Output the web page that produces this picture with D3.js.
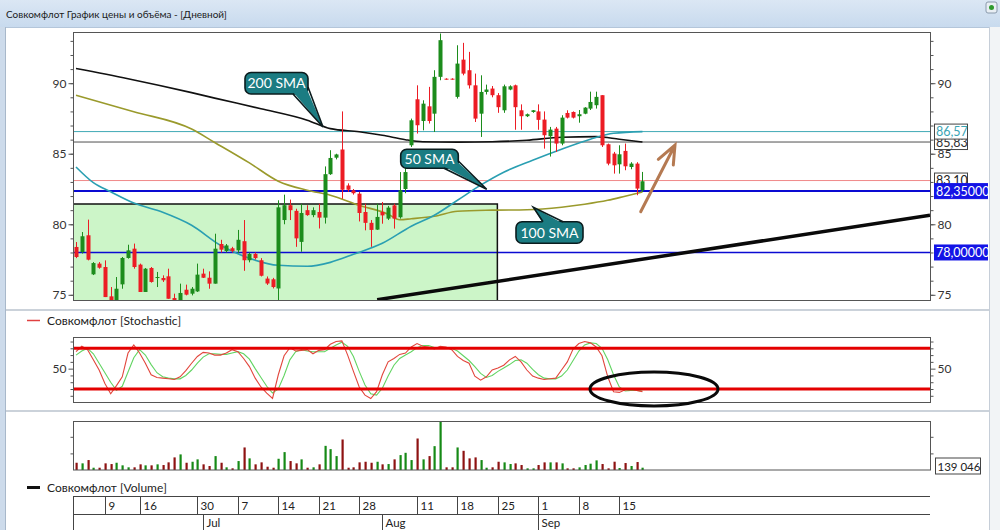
<!DOCTYPE html>
<html>
<head>
<meta charset="utf-8">
<script src="https://cdn.jsdelivr.net/npm/d3@7"></script>
<style>
  body {margin: 0; background: #fff;}
  svg text {font-family: Lato, "Noto Sans", sans-serif;}
</style>
</head>
<body>
<svg id="chart" width="1000" height="530"></svg>
<script>
// ---- data ----
var opens  = [78.39,78.03,79.22,76.45,77.21,76.97,74.89,74.56,75.74,77.61,78.27,77.14,75.2,76.9,76.19,76.19,76.31,74.77,74.56,75.36,
              75.08,75.24,76.5,76.21,75.79,78.6,78.1,78.3,78.15,78.8,77.45,77.9,77.45,76.15,76.1,75.45,80.3,81.35,80.95,78.75,
              81.0,80.65,80.87,80.47,83.55,84.72,85.3,82.75,82.4,82.17,80.87,80.1,79.62,80.87,80.4,81.34,80.5,82.5,85.6,88.86,
              87.32,88.36,87.84,90.45,90.32,90.32,89.03,91.67,90.92,89.85,87.84,89.38,89.62,89.15,88.08,89.55,89.85,88.08,87.66,87.96,
              88.0,87.42,86.24,86.78,85.72,87.89,87.96,87.66,87.84,88.2,88.44,89.15,85.67,85.01,84.25,85.2,84.06,84.3,82.41];
var highs  = [78.74,79.45,80.33,77.32,77.32,77.44,75.55,76.26,77.68,78.55,78.63,77.21,76.9,76.97,76.62,76.38,76.85,75.08,75.79,75.72,
              75.55,77.21,76.85,76.66,79.33,78.9,78.6,78.4,79.6,80.3,78.0,78.0,77.6,76.3,76.2,81.7,82.1,81.75,81.1,81.45,
              81.35,81.2,81.46,84.1,85.25,85.0,88.0,82.9,82.5,82.3,81.46,80.3,81.46,81.58,81.3,81.46,83.7,84.3,87.49,89.85,
              88.79,89.74,90.92,93.52,90.35,90.35,92.69,92.86,92.22,90.68,90.56,89.9,89.8,89.3,89.9,89.85,89.9,88.5,87.85,88.1,
              88.5,88.0,86.9,86.9,87.73,88.08,88.0,88.1,88.3,89.4,89.4,89.15,85.72,85.13,85.6,85.72,84.4,84.4,83.71];
var lows   = [77.6,77.92,77.44,76.4,76.85,74.84,74.56,74.56,75.43,77.56,76.85,75.2,75.2,75.86,75.55,75.91,74.72,74.56,74.56,74.96,
              74.96,75.2,76.19,75.43,75.79,78.0,78.0,78.0,77.95,76.7,77.3,77.5,76.3,75.7,75.45,74.6,80.0,80.3,78.4,78.05,
              80.6,80.5,79.7,80.05,83.5,84.6,81.8,82.3,82.1,80.2,79.57,78.4,79.6,80.04,80.3,79.69,80.4,82.2,85.48,86.43,
              86.66,87.14,86.54,90.21,90.25,90.25,88.91,90.56,89.62,87.25,86.19,89.2,89.0,87.9,87.9,89.5,86.7,86.7,87.6,87.9,
              86.7,85.36,84.8,85.13,85.6,87.5,87.5,87.2,87.8,88.1,88.2,85.48,84.18,83.59,83.59,83.83,83.9,82.06,82.29];
var closes = [77.68,79.15,77.49,77.25,76.92,74.84,74.56,75.43,77.61,78.15,76.97,75.2,76.85,75.91,76.26,76.03,74.72,74.56,75.13,75.01,
              75.43,76.43,76.21,75.79,78.27,78.2,78.5,78.1,78.9,77.45,77.9,77.6,76.35,75.8,75.55,81.2,81.35,81.0,79.0,80.8,
              80.65,81.0,80.47,83.55,84.7,84.95,82.45,82.45,82.2,80.8,80.1,79.6,80.52,80.63,81.18,80.4,82.41,83.7,87.37,87.02,
              88.55,87.32,90.45,93.05,90.28,90.28,91.39,90.68,89.85,87.49,89.38,89.55,89.15,88.3,89.78,89.78,88.3,87.66,87.8,88.08,
              87.4,86.31,86.71,85.72,87.56,87.56,87.56,87.8,88.27,88.67,89.03,85.6,84.3,84.18,84.96,84.11,84.3,82.53,83.05];
var volumes = [437000,401000,599000,138000,138000,401000,359000,437000,281000,162000,162000,341000,281000,281000,341000,299000,461000,760000,940000,437000,
               497000,641000,341000,240000,838000,437000,162000,102000,539000,1359000,701000,341000,461000,198000,138000,677000,1078000,539000,401000,641000,
               138000,162000,341000,1455000,1257000,838000,1838000,138000,162000,461000,497000,437000,497000,341000,359000,641000,898000,1036000,599000,1898000,
               641000,838000,1437000,2892000,162000,162000,1359000,1156000,701000,760000,599000,138000,162000,497000,460000,360000,400000,300000,100000,100000,
               300000,460000,460000,460000,400000,100000,100000,160000,300000,380000,580000,360000,100000,500000,120000,420000,240000,480000,139046];
var stochK = [75,83,78,63,48,28,13,25,38,73,85,73,58,41,37,36,35,34,38,47,
              58,68,74,73,70,70,73,78,75,65,53,36,23,14,6,41,69,81,76,77,
              78,72,77,78,86,90,91,70,46,23,11,6,16,41,60,65,71,73,82,87,
              83,82,79,83,82,78,68,62,58,39,33,38,48,51,55,63,68,60,48,39,
              36,34,35,36,48,60,79,87,90,88,82,69,38,16,15,19,20,18,16];
var stochD = [70,76,80,72,58,44,30,18,24,45,66,78,70,56,44,38,36,35,35,40,
              48,58,67,72,72,71,71,73,75,72,64,50,37,24,14,20,40,63,75,78,
              76,75,75,75,80,85,89,83,68,46,26,13,11,21,39,55,65,70,75,81,
              84,84,81,81,81,80,76,69,62,53,43,37,40,46,51,56,62,63,58,49,
              41,36,35,35,39,48,62,76,85,88,87,80,63,41,23,17,18,18,17];
// moving averages: [candle index, price]
var sma50  = [[0,84.06],[3,82.95],[6,82.3],[10,81.5],[15,80.85],[20,79.93],[25,78.51],[30,77.59],[35,77.09],[40,77.02],[44,77.3],
              [48,77.87],[53,78.65],[58,79.86],[62,80.64],[66,81.7],[70,82.77],[74,83.69],[79,84.54],[84,85.32],[89,86.03],[93,86.45],[98,86.57]];
var sma100 = [[0,89.15],[10,87.98],[20,86.75],[24,85.8],[30,84.35],[35,83.05],[40,82.41],[44,82.06],[49,81.35],[54,80.71],[56,80.32],
              [58,80.39],[62,80.57],[66,80.92],[72,81.0],[78,81.03],[84,81.21],[88,81.42],[92,81.7],[95,81.99],[98,82.29]];
var sma200 = [[0,91.04],[9,90.32],[20,89.33],[24,88.94],[32,88.19],[40,87.38],[44,86.78],[49,86.56],[53,86.31],[57,85.99],[60,85.85],
              [66,85.82],[72,85.85],[78,85.96],[84,86.17],[90,86.21],[94,86.03],[98,85.83]];
var levelValues = [83.10, 85.83, 86.57, 82.35, 78.00];
var zone = {from: -0.52, to: 72.9, top: 81.44};
var trendLine = [[52.1, 74.65], [147.75, 80.64]];
var stochLevels = [80, 20];
var weekLabels = ["9","16","30","7","14","21","28","11","18","25","1","8","15"];
var weekIdx    = [5, 11, 21, 28, 35, 42, 49, 59, 66, 73, 80, 87, 94];
var monthLabels = ["Jul","Aug","Sep"];
var monthIdx    = [22, 53, 80];

// ---- layout ----
var L = 73, R = 930;
var svg = d3.select("#chart");
var x  = d3.scaleLinear().domain([-0.52, 147.75]).range([L, R]);
var yP = d3.scaleLinear().domain([75, 90]).range([294.8, 83.2]);
var yS = d3.scaleLinear().domain([20, 80]).range([389, 348.3]);
var yV = d3.scaleLinear().domain([0, d3.max(volumes)]).range([470, 422]);
var main = {top: 32, bottom: 300}, stoch = {top: 337.5, bottom: 402.5}, vol = {top: 421.5, bottom: 470};

var candles = opens.map(function(o, i) {
  return {i: i, o: o, h: highs[i], l: lows[i], c: closes[i], v: volumes[i]};
});
var upCol = "#1c8c1c", downCol = "#ec1c24";

// window frame
var defs = svg.append("defs");
var grad = defs.append("linearGradient").attr("id", "titleGrad").attr("x1", 0).attr("y1", 0).attr("x2", 0).attr("y2", 1);
grad.append("stop").attr("offset", "0%").attr("stop-color", "#dbe7f4");
grad.append("stop").attr("offset", "100%").attr("stop-color", "#c8daee");
defs.append("clipPath").attr("id", "clipMain").append("rect")
  .attr("x", L).attr("y", main.top).attr("width", R - L).attr("height", main.bottom - main.top);
defs.append("clipPath").attr("id", "clipRight").append("rect")
  .attr("x", 0).attr("y", 0).attr("width", 988).attr("height", 530);

svg.append("rect").attr("width", 1000).attr("height", 530).attr("fill", "#fff");
svg.append("rect").attr("width", 1000).attr("height", 27).attr("fill", "url(#titleGrad)");
svg.append("line").attr("x1", 0).attr("x2", 1000).attr("y1", 27.5).attr("y2", 27.5).attr("stroke", "#b4c6da");
svg.append("text").attr("x", 6).attr("y", 18).attr("font-size", 10).attr("fill", "#1a1a1a")
  .text("Совкомфлот График цены и объёма - [Дневной]");
svg.append("rect").attr("x", 0).attr("y", 27).attr("width", 5).attr("height", 503).attr("fill", "#cddbeb");
svg.append("line").attr("x1", 5.5).attr("x2", 5.5).attr("y1", 27).attr("y2", 530).attr("stroke", "#a8b8ca");
svg.append("rect").attr("x", 989).attr("y", 27).attr("width", 11).attr("height", 503).attr("fill", "#f2f4f6");
svg.append("line").attr("x1", 989.5).attr("x2", 989.5).attr("y1", 27).attr("y2", 530).attr("stroke", "#c6ced8");
// small icon top right
svg.append("rect").attr("x", 986).attr("y", 2).attr("width", 11).attr("height", 11).attr("rx", 2)
  .attr("fill", "#e8eef4").attr("stroke", "#8a9aac");
svg.append("circle").attr("cx", 991.5).attr("cy", 7.5).attr("r", 2.5).attr("fill", "#2e9a2e");

// panel separators
[310, 411].forEach(function(yy) {
  svg.append("line").attr("x1", 6).attr("x2", 989).attr("y1", yy).attr("y2", yy)
    .attr("stroke", "#cbd2da").attr("stroke-width", 2);
});

// ---- main price panel ----
var gMain = svg.append("g").attr("clip-path", "url(#clipMain)");

gMain.append("rect")
  .attr("x", x(zone.from)).attr("y", yP(zone.top))
  .attr("width", x(zone.to) - x(zone.from)).attr("height", main.bottom - yP(zone.top))
  .attr("fill", "#ccf5c8");

var levelColors = ["#f08a8a", "#505050", "#40aab6", "#0a0ad2", "#0a0ad2"];
var levelWidths = [1, 1, 1, 2, 1.5];
levelValues.forEach(function(v, k) {
  gMain.append("line").attr("x1", L).attr("x2", R)
    .attr("y1", yP(v)).attr("y2", yP(v))
    .attr("stroke", levelColors[k]).attr("stroke-width", levelWidths[k]);
});

// zone border
gMain.append("path")
  .attr("d", d3.line()([[x(zone.from), yP(zone.top)], [x(zone.to), yP(zone.top)], [x(zone.to), main.bottom]]))
  .attr("fill", "none").attr("stroke", "#111").attr("stroke-width", 1.5);

var smaLine = d3.line()
  .x(function(d) {return x(d[0]);})
  .y(function(d) {return yP(d[1]);})
  .curve(d3.curveMonotoneX);
gMain.append("path").attr("d", smaLine(sma200)).attr("fill", "none").attr("stroke", "#111").attr("stroke-width", 1.6);
gMain.append("path").attr("d", smaLine(sma100)).attr("fill", "none").attr("stroke", "#9a9a2c").attr("stroke-width", 1.6);
gMain.append("path").attr("d", smaLine(sma50)).attr("fill", "none").attr("stroke", "#2a9fb2").attr("stroke-width", 1.6);

// candles
gMain.selectAll("line.wick").data(candles).enter().append("line")
  .attr("class", "wick")
  .attr("x1", function(d) {return Math.round(x(d.i)) + 0.5;})
  .attr("x2", function(d) {return Math.round(x(d.i)) + 0.5;})
  .attr("y1", function(d) {return yP(d.h);})
  .attr("y2", function(d) {return yP(d.l);})
  .attr("stroke", function(d) {return d.c >= d.o ? upCol : downCol;});
gMain.selectAll("rect.body").data(candles).enter().append("rect")
  .attr("class", "body")
  .attr("x", function(d) {return Math.round(x(d.i)) - 1.5;})
  .attr("width", 4)
  .attr("y", function(d) {return yP(Math.max(d.o, d.c));})
  .attr("height", function(d) {return Math.max(1, Math.abs(yP(d.o) - yP(d.c)));})
  .attr("fill", function(d) {return d.c >= d.o ? upCol : downCol;});

// trend line
gMain.append("line")
  .attr("x1", x(trendLine[0][0])).attr("y1", yP(trendLine[0][1]))
  .attr("x2", x(trendLine[1][0])).attr("y2", yP(trendLine[1][1]))
  .attr("stroke", "#0a0a0a").attr("stroke-width", 3.5);

// hand-drawn arrow
var arrowCol = "#b57a52";
gMain.append("path")
  .attr("d", "M640.7,211.7 L675,145 M658.3,159.3 L675,145 L673.3,165")
  .attr("fill", "none").attr("stroke", arrowCol).attr("stroke-width", 3).attr("stroke-linecap", "round");

// callouts
function callout(bx, by, bw, bh, base, inner, tip, label) {
  var g = svg.append("g");
  g.append("rect").attr("x", bx).attr("y", by).attr("width", bw).attr("height", bh).attr("rx", 6)
    .attr("fill", "#1b7c82").attr("stroke", "#0b1c1e").attr("stroke-width", 1.6);
  g.append("path").attr("d", d3.line()([inner[0], tip, inner[1]]) + "Z").attr("fill", "#1b7c82");
  g.append("path").attr("d", d3.line()([base[0], tip, base[1]]))
    .attr("fill", "none").attr("stroke", "#0b1c1e").attr("stroke-width", 1.6);
  g.append("text").attr("x", bx + bw / 2).attr("y", by + bh / 2 + 5)
    .attr("text-anchor", "middle").attr("font-size", 14).attr("fill", "#fff").text(label);
}
callout(245, 72.5, 63, 21.5, [[293, 94], [308, 87]], [[293, 92], [306, 87]], [323, 127], "200 SMA");
callout(400.7, 149.3, 57.6, 19, [[444, 168.3], [458.3, 161]], [[444, 166.5], [456.5, 161]], [486.7, 189.3], "50 SMA");
callout(516, 221.7, 67, 21.6, [[543, 221.7], [563, 221.7]], [[543, 223.5], [563, 223.5]], [533.3, 207.3], "100 SMA");

// main frame and axes
svg.append("rect").attr("x", L + 0.5).attr("y", main.top + 0.5).attr("width", R - L).attr("height", main.bottom - main.top)
  .attr("fill", "none").attr("stroke", "#555");
function priceAxes(scale, minor, major) {
  var gr = svg.append("g").attr("transform", "translate(" + (R + 0.5) + ",0)");
  gr.call(d3.axisRight(scale).tickValues(minor).tickSize(3).tickFormat(""));
  gr.select(".domain").remove();
  var gr2 = svg.append("g").attr("transform", "translate(" + (R + 0.5) + ",0)");
  gr2.call(d3.axisRight(scale).tickValues(major).tickSize(5).tickPadding(2));
  gr2.select(".domain").remove();
  gr2.selectAll("text").attr("font-size", 12).attr("fill", "#333");
  var gl = svg.append("g").attr("transform", "translate(" + (L + 0.5) + ",0)");
  gl.call(d3.axisLeft(scale).tickValues(minor).tickSize(3).tickFormat(""));
  gl.select(".domain").remove();
  var gl2 = svg.append("g").attr("transform", "translate(" + (L + 0.5) + ",0)");
  gl2.call(d3.axisLeft(scale).tickValues(major).tickSize(5).tickPadding(2));
  gl2.select(".domain").remove();
  gl2.selectAll("text").attr("font-size", 12).attr("fill", "#333");
  svg.selectAll(".tick line").attr("stroke", "#555");
}
priceAxes(yP, d3.range(75, 94), [75, 80, 85, 90]);

// right value labels (later boxes cover earlier ones, as in the terminal)
var gLab = svg.append("g").attr("clip-path", "url(#clipRight)");
var labelText = [d3.format(".2f"), d3.format(".2f"), d3.format(".2f"), d3.format(".6f"), d3.format(".6f")];
var labelFill = ["#fff", "#fff", "#fff", "#1414e6", "#1414e6"];
var labelInk  = ["#222", "#333", "#3aa4b4", "#fff", "#fff"];
var labelW    = [33, 33, 33, 70, 70];
levelValues.forEach(function(v, k) {
  var yy = yP(v);
  gLab.append("rect").attr("x", 934.5).attr("y", yy - 7.5).attr("width", labelW[k]).attr("height", 15)
    .attr("fill", labelFill[k]).attr("stroke", k < 3 ? "#444" : labelFill[k]);
  gLab.append("text").attr("x", 936).attr("y", yy + 4.5).attr("font-size", 12.5).attr("fill", labelInk[k])
    .text(labelText[k](v).replace(".", ","));
});

// ---- stochastic panel ----
svg.append("line").attr("x1", 27).attr("x2", 40).attr("y1", 320.5).attr("y2", 320.5).attr("stroke", "#e04040").attr("stroke-width", 1.5);
svg.append("text").attr("x", 47).attr("y", 325).attr("font-size", 12).attr("fill", "#222").text("Совкомфлот [Stochastic]");
var stLine = d3.line().x(function(d, i) {return x(i);}).y(function(d) {return yS(d);});
svg.append("path").attr("d", stLine(stochD)).attr("fill", "none").attr("stroke", "#62d462").attr("stroke-width", 1.1);
svg.append("path").attr("d", stLine(stochK)).attr("fill", "none").attr("stroke", "#e2463c").attr("stroke-width", 1.1);
stochLevels.forEach(function(v) {
  svg.append("line").attr("x1", L).attr("x2", R).attr("y1", yS(v)).attr("y2", yS(v))
    .attr("stroke", "#e40000").attr("stroke-width", 3);
});
svg.append("rect").attr("x", L + 0.5).attr("y", stoch.top).attr("width", R - L).attr("height", stoch.bottom - stoch.top)
  .attr("fill", "none").attr("stroke", "#555");
priceAxes(yS, [10, 20, 30, 40, 60, 70, 80, 90], [50]);
svg.append("ellipse").attr("cx", x(100)).attr("cy", yS(20)).attr("rx", 64).attr("ry", 17)
  .attr("fill", "none").attr("stroke", "#0a0a0a").attr("stroke-width", 3);

// ---- volume panel ----
svg.selectAll("rect.vol").data(candles).enter().append("rect")
  .attr("class", "vol")
  .attr("x", function(d) {return Math.round(x(d.i)) - 0.5;})
  .attr("width", 2.2)
  .attr("y", function(d) {return yV(d.v);})
  .attr("height", function(d) {return vol.bottom - yV(d.v);})
  .attr("fill", function(d) {return d.c >= d.o ? "#168a16" : "#8e1212";});
svg.append("rect").attr("x", L + 0.5).attr("y", vol.top).attr("width", R - L).attr("height", vol.bottom - vol.top)
  .attr("fill", "none").attr("stroke", "#555");
var vTicks = [1000000, 2000000];
svg.append("g").attr("transform", "translate(" + (R + 0.5) + ",0)")
  .call(d3.axisRight(yV).tickValues(vTicks).tickSize(3).tickFormat(""))
  .call(function(g) {g.select(".domain").remove(); g.selectAll("line").attr("stroke", "#555");});
svg.append("g").attr("transform", "translate(" + (L + 0.5) + ",0)")
  .call(d3.axisLeft(yV).tickValues(vTicks).tickSize(3).tickFormat(""))
  .call(function(g) {g.select(".domain").remove(); g.selectAll("line").attr("stroke", "#555");});
var lastVol = volumes[volumes.length - 1];
var lvY = Math.min(yV(lastVol), vol.bottom - 4);
svg.append("rect").attr("x", 935.5).attr("y", lvY - 8).attr("width", 45).attr("height", 16)
  .attr("fill", "#fff").attr("stroke", "#444");
svg.append("text").attr("x", 937.5).attr("y", lvY + 4.5).attr("font-size", 11.5).attr("fill", "#222")
  .text(d3.format(",")(lastVol).replace(/,/g, " "));

svg.append("line").attr("x1", 27).attr("x2", 40).attr("y1", 487.5).attr("y2", 487.5).attr("stroke", "#111").attr("stroke-width", 3);
svg.append("text").attr("x", 47).attr("y", 492).attr("font-size", 12).attr("fill", "#222").text("Совкомфлот [Volume]");

// ---- date axis ----
var gDate = svg.append("g").attr("stroke", "#444");
gDate.append("line").attr("x1", L).attr("x2", R).attr("y1", 496.5).attr("y2", 496.5);
gDate.append("line").attr("x1", L).attr("x2", R).attr("y1", 514.5).attr("y2", 514.5);
gDate.append("line").attr("x1", L + 0.5).attr("x2", L + 0.5).attr("y1", 496).attr("y2", 530);
weekIdx.forEach(function(idx, k) {
  var xx = Math.round(x(idx)) + 0.5;
  gDate.append("line").attr("x1", xx).attr("x2", xx).attr("y1", 496).attr("y2", 514);
  svg.append("text").attr("x", xx + 3).attr("y", 510).attr("font-size", 11.5).attr("fill", "#222").text(weekLabels[k]);
});
monthIdx.forEach(function(idx, k) {
  var xx = Math.round(x(idx)) + 0.5;
  gDate.append("line").attr("x1", xx).attr("x2", xx).attr("y1", 514).attr("y2", 530);
  svg.append("text").attr("x", xx + 3).attr("y", 527).attr("font-size", 11.5).attr("fill", "#222").text(monthLabels[k]);
});
</script>
</body>
</html>
